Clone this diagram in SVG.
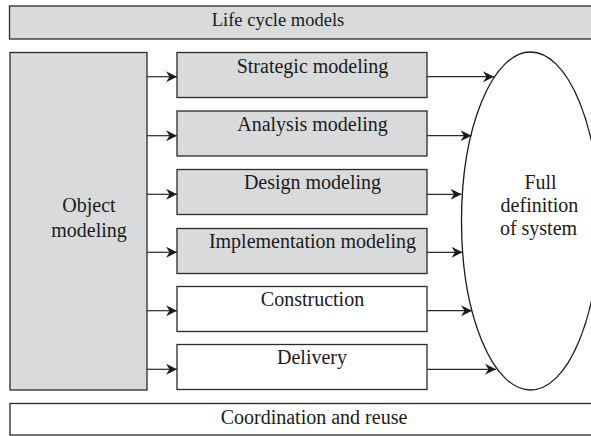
<svg xmlns="http://www.w3.org/2000/svg" width="591" height="436" viewBox="0 0 591 436">
  <style>
    .box { stroke: #2a2a2a; stroke-width: 1.3; }
    .grey { fill: #d9dadc; }
    .white { fill: #ffffff; }
    .lbl { font-family: "Liberation Serif", "Times New Roman", serif; font-size: 20px; fill: #1a1a1a; text-anchor: middle; }
    .conn { stroke: #2a2a2a; stroke-width: 1.2; fill: none; marker-end: url(#arrow); }
  </style>
  <defs>
    <marker id="arrow" markerUnits="userSpaceOnUse" markerWidth="12" markerHeight="12" refX="11" refY="5.5" orient="auto" viewBox="0 0 12 11">
      <path d="M0,0 L11,5.5 L0,11 L3.5,5.5 Z" fill="#1a1a1a"/>
    </marker>
  </defs>
  <rect width="591" height="436" fill="#ffffff"/>

  <!-- banner across the top -->
  <g id="life-cycle-models">
    <rect class="box grey" x="9.5" y="6" width="583" height="33"/>
    <text class="lbl" x="278" y="26" style="font-size:18.5px">Life cycle models</text>
  </g>

  <!-- tall column on the left -->
  <g id="object-modeling">
    <rect class="box grey" x="10" y="52.5" width="137" height="337.5"/>
    <text class="lbl" x="89" y="212">Object</text>
    <text class="lbl" x="89" y="237">modeling</text>
  </g>

  <!-- stage boxes -->
  <g id="strategic-modeling">
    <rect class="box grey" x="177" y="52.5" width="250" height="45"/>
    <text class="lbl" x="312.5" y="73">Strategic modeling</text>
  </g>
  <g id="analysis-modeling">
    <rect class="box grey" x="177" y="111" width="250" height="45"/>
    <text class="lbl" x="312.5" y="131">Analysis modeling</text>
  </g>
  <g id="design-modeling">
    <rect class="box grey" x="177" y="169.5" width="250" height="45"/>
    <text class="lbl" x="312.5" y="189">Design modeling</text>
  </g>
  <g id="implementation-modeling">
    <rect class="box grey" x="177" y="228.5" width="250" height="45"/>
    <text class="lbl" x="312.5" y="247.5">Implementation modeling</text>
  </g>
  <g id="construction">
    <rect class="box white" x="177" y="286.5" width="250" height="45"/>
    <text class="lbl" x="312.5" y="306">Construction</text>
  </g>
  <g id="delivery">
    <rect class="box white" x="177" y="344.5" width="250" height="45"/>
    <text class="lbl" x="312" y="364">Delivery</text>
  </g>

  <!-- outcome ellipse -->
  <g id="full-definition">
    <ellipse cx="530.5" cy="221" rx="69" ry="169" fill="#ffffff" stroke="#1a1a1a" stroke-width="1.3"/>
    <text class="lbl" x="540.5" y="188.5">Full</text>
    <text class="lbl" x="539.5" y="211.5">definition</text>
    <text class="lbl" x="538.5" y="234.5">of system</text>
  </g>

  <!-- banner across the bottom -->
  <g id="coordination-and-reuse">
    <rect class="box white" x="10" y="403.5" width="583" height="31.5"/>
    <text class="lbl" x="314" y="423.5">Coordination and reuse</text>
  </g>

  <g id="connectors">
    <line class="conn" x1="147" y1="76.7" x2="177" y2="76.7"/>
    <line class="conn" x1="147" y1="135.7" x2="177" y2="135.7"/>
    <line class="conn" x1="147" y1="194.3" x2="177" y2="194.3"/>
    <line class="conn" x1="147" y1="252.3" x2="177" y2="252.3"/>
    <line class="conn" x1="147" y1="310.7" x2="177" y2="310.7"/>
    <line class="conn" x1="147" y1="369.3" x2="177" y2="369.3"/>

    <line class="conn" x1="427" y1="76.7" x2="494" y2="76.7"/>
    <line class="conn" x1="427" y1="135.7" x2="471.5" y2="135.7"/>
    <line class="conn" x1="427" y1="194.3" x2="461.5" y2="194.3"/>
    <line class="conn" x1="427" y1="252.3" x2="462.5" y2="252.3"/>
    <line class="conn" x1="427" y1="310.7" x2="472" y2="310.7"/>
    <line class="conn" x1="427" y1="369.3" x2="496" y2="369.3"/>
  </g>
</svg>
